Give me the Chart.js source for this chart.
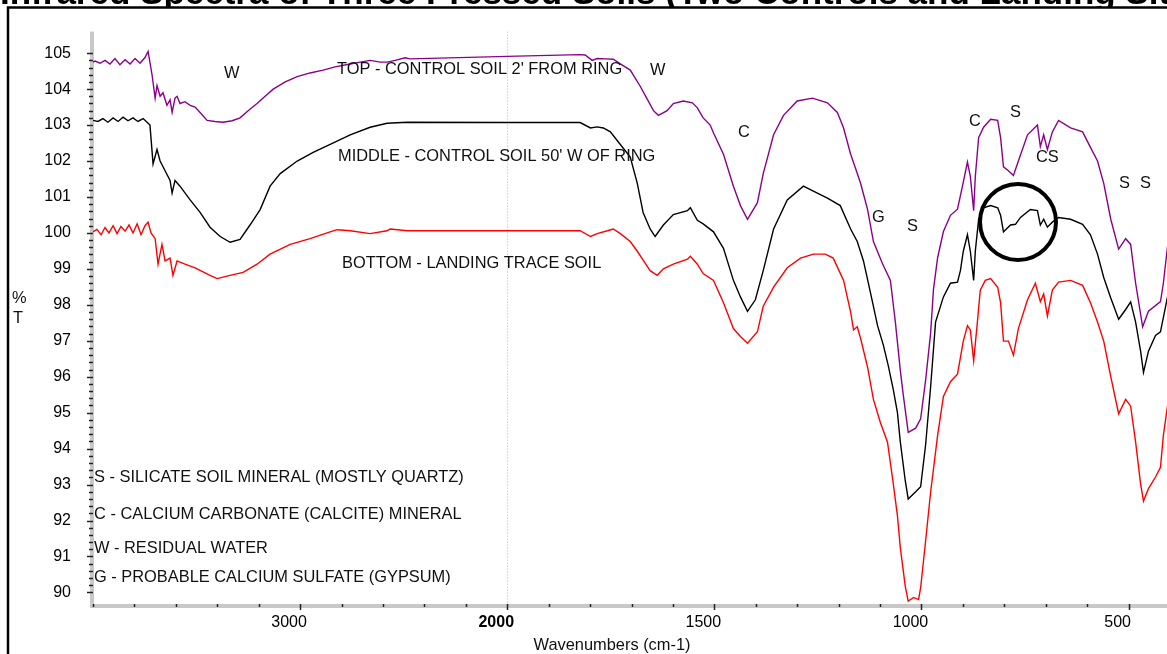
<!DOCTYPE html>
<html lang="en">
<head>
<meta charset="UTF-8">
<title>Infrared Spectra of Soils</title>
<script src="https://cdn.jsdelivr.net/npm/chart.js"></script>
<style>
    html, body { margin: 0; padding: 0; overflow: hidden; background: #fff; }
    #wrap { width: 1200px; height: 654px; }
</style>
</head>
<body>
<div id="wrap"><canvas id="spectra" width="1200" height="654"></canvas></div>
<script>
    // wavenumbers (cm-1) and %T, one pair of arrays per trace
    const waveTop = [4000,3990,3966,3942,3918,3894,3870,3845,3821,3797,3773,3749,3734,3715,3700,3691,3676,3662,3643,3628,3618,3604,3594,3580,3556,3531,3507,3483,3449,3411,3372,3328,3290,3251,3208,3169,3130,3072,3014,2952,2889,2831,2758,2710,2662,2613,2580,2541,2493,2469,2000,1824,1812,1795,1783,1763,1744,1727,1703,1679,1662,1647,1635,1614,1599,1575,1553,1541,1527,1510,1502,1478,1454,1437,1420,1396,1382,1357,1333,1300,1263,1227,1203,1188,1171,1159,1147,1130,1116,1094,1075,1063,1051,1044,1032,1014,1002,990,978,971,961,947,930,913,901,889,882,874,870,862,850,833,816,809,802,790,778,766,744,720,713,705,696,684,669,640,611,592,575,560,543,524,507,495,483,466,452,423,416,406,400];
    const pctTop = [104.75,104.78,104.72,104.8,104.7,104.85,104.68,104.82,104.7,104.85,104.72,104.88,105.05,104.4,103.75,104.1,103.8,103.9,103.55,103.7,103.35,103.75,103.8,103.6,103.65,103.55,103.5,103.35,103.13,103.1,103.08,103.12,103.2,103.4,103.6,103.8,104.0,104.2,104.35,104.45,104.53,104.62,104.7,104.75,104.8,104.75,104.75,104.8,104.87,104.84,104.91,104.96,104.95,104.8,104.85,104.84,104.83,104.7,104.53,104.08,103.72,103.4,103.27,103.4,103.6,103.67,103.62,103.48,103.2,103.0,102.78,102.19,101.3,100.76,100.38,100.84,101.65,102.73,103.27,103.67,103.75,103.62,103.35,102.92,102.19,101.79,101.38,100.65,99.76,99.14,98.68,97.52,96.17,95.5,94.45,94.57,94.83,95.9,97.2,98.43,99.31,100.04,100.49,100.66,101.3,101.97,101.57,100.62,101.57,102.65,102.94,103.16,103.13,102.65,101.84,101.73,101.6,102.0,102.73,103.0,102.4,102.73,102.32,102.81,103.13,102.92,102.81,102.38,102.0,101.38,100.38,99.55,99.84,99.68,98.6,97.39,97.82,98.09,98.6,99.62,99.8];

    const waveMid = [4000,3976,3952,3928,3903,3879,3855,3831,3807,3783,3758,3734,3725,3710,3691,3676,3652,3628,3618,3604,3580,3531,3483,3435,3386,3338,3290,3242,3193,3145,3096,3014,2937,2855,2758,2662,2580,2483,2000,1824,1799,1783,1768,1751,1727,1703,1686,1672,1655,1643,1623,1599,1565,1558,1541,1527,1502,1478,1454,1437,1420,1401,1382,1357,1324,1285,1261,1227,1196,1171,1155,1140,1123,1106,1092,1080,1068,1058,1051,1039,1032,1014,1002,990,978,966,947,930,913,906,899,889,882,874,870,862,850,833,816,809,802,795,785,773,761,737,720,713,705,696,684,669,640,611,592,575,560,543,524,507,495,483,471,464,452,435,423,406,400];
    const pctMid = [103.13,103.1,103.18,103.08,103.2,103.1,103.22,103.12,103.2,103.1,103.18,103.05,103.0,101.92,102.32,102.0,101.73,101.46,101.11,101.46,101.3,100.92,100.57,100.16,99.9,99.74,99.82,100.22,100.65,101.3,101.65,102.0,102.24,102.46,102.73,102.94,103.05,103.08,103.07,103.07,102.92,102.95,102.92,102.81,102.46,102.11,101.38,100.57,100.11,99.9,100.22,100.51,100.62,100.7,100.35,100.25,100.03,99.57,98.68,98.22,97.82,98.14,98.95,100.11,100.92,101.3,101.16,100.97,100.76,100.11,99.76,99.22,98.33,97.42,96.88,96.3,95.64,95.0,94.18,93.1,92.6,92.8,92.94,94.1,95.7,97.52,98.22,98.6,98.63,98.95,99.49,99.95,99.49,98.68,99.49,100.38,100.7,100.76,100.7,100.49,100.03,100.11,100.22,100.24,100.43,100.65,100.62,100.22,100.38,100.16,100.3,100.43,100.38,100.24,99.95,99.41,98.76,98.19,97.6,97.87,98.08,97.52,96.71,96.12,96.71,97.15,97.25,98.22,98.4];

    const waveBot = [4000,3981,3961,3942,3923,3903,3884,3865,3845,3826,3807,3787,3768,3749,3734,3720,3700,3686,3667,3652,3628,3614,3594,3556,3507,3435,3401,3338,3275,3208,3145,3048,2952,2855,2821,2758,2662,2580,2565,2483,2000,1824,1799,1783,1758,1744,1727,1703,1686,1667,1655,1638,1623,1599,1565,1558,1541,1527,1502,1478,1454,1437,1420,1396,1382,1357,1324,1292,1261,1232,1213,1188,1171,1164,1155,1147,1130,1116,1099,1082,1068,1058,1051,1039,1032,1019,1007,1002,990,978,961,947,930,913,899,889,882,874,865,858,846,833,816,809,802,790,778,766,744,725,713,705,696,684,669,640,611,592,575,560,543,524,507,495,483,471,464,452,435,423,416,406,400];
    const pctBot = [100.03,100.1,99.95,100.15,100.0,100.2,99.98,100.18,100.05,100.22,100.0,100.25,99.95,100.2,100.3,100.0,99.84,99.13,99.68,99.22,99.3,98.82,99.22,99.13,99.03,98.82,98.73,98.82,98.9,99.13,99.41,99.68,99.84,100.03,100.09,100.06,99.98,100.06,100.11,100.06,100.06,100.06,99.9,99.98,100.06,100.11,99.98,99.76,99.49,99.16,98.95,98.82,99.0,99.13,99.27,99.35,99.13,98.87,98.68,98.06,97.34,97.12,96.93,97.25,97.96,98.49,99.03,99.3,99.41,99.41,99.3,98.68,97.8,97.3,97.39,97.07,96.26,95.37,94.72,94.18,93.02,92.13,91.24,90.16,89.76,89.86,89.8,90.13,91.43,92.78,94.37,95.45,95.86,96.07,96.99,97.42,97.3,96.44,97.52,98.41,98.68,98.73,98.49,98.06,96.99,96.99,96.6,97.34,98.14,98.6,98.09,98.3,97.69,98.41,98.63,98.68,98.54,98.06,97.52,96.99,96.0,94.97,95.37,95.18,94.18,93.02,92.54,92.89,93.21,93.48,94.37,95.18,95.5];

    const traceNames = ['TOP - CONTROL SOIL 2\' FROM RING', 'MIDDLE - CONTROL SOIL 50\' W OF RING', 'BOTTOM - LANDING TRACE SOIL'];
    const traceColors = ['#8b008b', '#000000', '#ff0000'];
    const waveLabels = [3000, 2000, 1500, 1000, 500];

    const legendLines = [
        'S - SILICATE SOIL MINERAL (MOSTLY QUARTZ)',
        'C - CALCIUM CARBONATE (CALCITE) MINERAL',
        'W - RESIDUAL WATER',
        'G - PROBABLE CALCIUM SULFATE (GYPSUM)'
    ];

    const FONT = '"Liberation Sans", Arial, sans-serif';

    // above 2000 cm-1 the spectrum is drawn at half scale
    function fold(w) { return w > 2000 ? 2000 + (w - 2000) / 2 : w; }
    function unfold(u) { return u > 2000 ? 2000 + (u - 2000) * 2 : u; }

    function toPoints(waves, vals) {
        return waves.map((w, i) => ({ x: fold(w), y: vals[i] }));
    }

    const series = [
        toPoints(waveTop, pctTop),
        toPoints(waveMid, pctMid),
        toPoints(waveBot, pctBot)
    ];

    const decorPlugin = {
        id: 'decor',
        beforeDatasetsDraw(chart) {
            const { ctx, chartArea: a, scales } = chart;
            const xs = scales.x, ys = scales.y;
            ctx.save();
            // dotted line at the scale break
            const xb = xs.getPixelForValue(2000);
            ctx.strokeStyle = '#b4b4b4';
            ctx.lineWidth = 1;
            ctx.setLineDash([1, 2]);
            ctx.beginPath();
            ctx.moveTo(Math.round(xb) + 0.5, a.top);
            ctx.lineTo(Math.round(xb) + 0.5, a.bottom);
            ctx.stroke();
            ctx.setLineDash([]);

            // grey axis bars
            ctx.fillStyle = '#c8c8c8';
            ctx.fillRect(a.left - 3, a.top, 4, a.bottom - a.top + 3);
            ctx.fillRect(a.left - 3, a.bottom - 1, a.right - a.left + 3, 4);

            // tick marks
            ctx.strokeStyle = '#222';
            ctx.lineWidth = 1.5;
            ys.ticks.forEach(t => {
                const y = Math.round(ys.getPixelForValue(t.value)) + 0.5;
                const major = Math.abs(t.value - Math.round(t.value)) < 1e-6;
                ctx.beginPath();
                ctx.moveTo(a.left - (major ? 6 : 4), y);
                ctx.lineTo(a.left, y);
                ctx.stroke();
            });
            xs.ticks.forEach(t => {
                const x = Math.round(xs.getPixelForValue(t.value)) + 0.5;
                const major = waveLabels.includes(unfold(t.value));
                ctx.beginPath();
                ctx.moveTo(x, a.bottom - 1);
                ctx.lineTo(x, a.bottom + (major ? 5 : 2));
                ctx.stroke();
            });
            ctx.restore();
        },
        afterDraw(chart) {
            const { ctx } = chart;
            ctx.save();
            // title, cut off by the top of the picture and the frame
            ctx.save();
            ctx.beginPath();
            ctx.rect(0, 0, 1200, 7);
            ctx.clip();
            ctx.fillStyle = '#000';
            ctx.font = 'bold 35px ' + FONT;
            ctx.textBaseline = 'alphabetic';
            ctx.textAlign = 'left';
            ctx.fillText('Infrared Spectra of Three Pressed Soils (Two Controls and Landing Site)', 0, 3.5);
            ctx.restore();

            // outer frame (runs off the picture to the right and bottom)
            ctx.strokeStyle = '#000';
            ctx.lineWidth = 2.5;
            ctx.beginPath();
            ctx.moveTo(8, 660);
            ctx.lineTo(8, 7.5);
            ctx.lineTo(1200, 7.5);
            ctx.stroke();

            ctx.fillStyle = '#111';
            ctx.font = '16.4px ' + FONT;
            ctx.textBaseline = 'middle';
            ctx.textAlign = 'left';
            // trace names
            ctx.fillText(traceNames[0], 337, 69);
            ctx.fillText(traceNames[1], 338, 156);
            ctx.fillText(traceNames[2], 342, 263);
            // band letters
            const marks = [['W', 224, 73], ['W', 650, 70], ['C', 738, 132], ['C', 969, 121], ['S', 1010, 112],
                ['CS', 1036, 157], ['S', 1119, 183], ['S', 1140, 183], ['G', 872, 217], ['S', 907, 226]];
            marks.forEach(m => ctx.fillText(m[0], m[1], m[2]));
            // key
            const keyY = [477, 514, 548, 577];
            legendLines.forEach((t, i) => ctx.fillText(t, 94, keyY[i]));

            // axis titles
            ctx.fillText('%', 12, 298);
            ctx.fillText('T', 13, 318);
            ctx.textAlign = 'center';
            ctx.fillText('Wavenumbers (cm-1)', 612, 645);

            // circled region
            ctx.strokeStyle = '#000';
            ctx.lineWidth = 4;
            ctx.beginPath();
            ctx.arc(1018, 222, 38, 0, Math.PI * 2);
            ctx.stroke();
            ctx.restore();
        }
    };

    new Chart(document.getElementById('spectra'), {
        type: 'line',
        data: {
            datasets: series.map((pts, i) => ({
                label: traceNames[i],
                data: pts,
                borderColor: traceColors[i],
                borderWidth: 1.4,
                pointRadius: 0,
                tension: 0,
                fill: false
            }))
        },
        options: {
            responsive: false,
            animation: false,
            events: [],
            layout: { padding: { top: 13, right: 30, left: 0, bottom: 0 } },
            plugins: { legend: { display: false }, tooltip: { enabled: false }, title: { display: false } },
            scales: {
                x: {
                    type: 'linear',
                    min: fold(400),
                    max: fold(4000),
                    reverse: true,
                    grid: { display: false, drawTicks: false },
                    border: { display: false },
                    afterBuildTicks(s) {
                        const t = [];
                        for (let u = 400; u <= 3000; u += 100) t.push({ value: u });
                        s.ticks = t;
                    },
                    afterFit(s) { s.height = 49; },
                    ticks: {
                        autoSkip: false,
                        maxRotation: 0,
                        padding: 8,
                        labelOffset: -11,
                        color: '#000',
                        font: c => ({
                            family: FONT,
                            size: 16,
                            weight: (c && c.tick && unfold(c.tick.value) === 2000) ? 'bold' : 'normal'
                        }),
                        callback: v => waveLabels.includes(unfold(v)) ? String(unfold(v)) : ''
                    }
                },
                y: {
                    type: 'linear',
                    min: 89.65,
                    max: 105.6,
                    grid: { display: false, drawTicks: false },
                    border: { display: false },
                    afterBuildTicks(s) {
                        const t = [];
                        for (let i = 450; i <= 525; i++) t.push({ value: i / 5 });
                        s.ticks = t;
                    },
                    afterFit(s) { s.width = 93; },
                    ticks: {
                        autoSkip: false,
                        padding: 22,
                        color: '#000',
                        font: { family: FONT, size: 16 },
                        callback: v => Math.abs(v - Math.round(v)) < 1e-6 ? String(Math.round(v)) : ''
                    }
                }
            }
        },
        plugins: [decorPlugin]
    });
</script>
</body>
</html>
